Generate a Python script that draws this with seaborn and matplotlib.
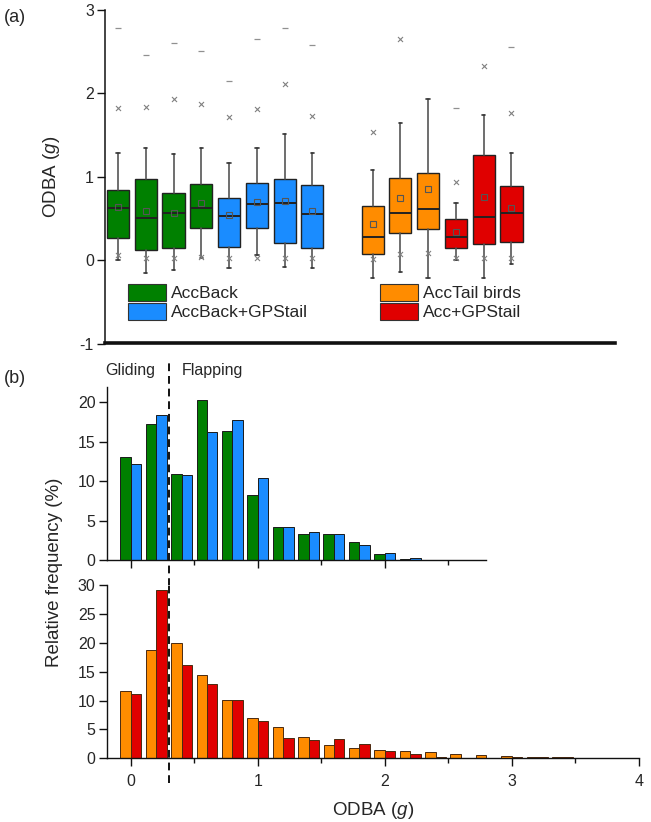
import numpy as np
import pandas as pd
import matplotlib
matplotlib.use("Agg")
import matplotlib.pyplot as plt
from matplotlib.patches import Patch
import seaborn as sns

sns.set_style("ticks")
plt.rcParams['font.family'] = ['Liberation Sans', 'DejaVu Sans']
plt.rcParams['mathtext.fontset'] = 'custom'
plt.rcParams['mathtext.rm'] = 'Liberation Sans'
plt.rcParams['mathtext.it'] = 'Liberation Sans:italic'

# ---------------- Panel (a) data: box statistics per bird ----------------
box_groups = ["AccBack"] * 4 + ["AccBack+GPStail"] * 4 + ["AccTail birds"] * 3 + ["Acc+GPStail"] * 3
whisker_hi = [1.28, 1.35, 1.27, 1.34, 1.16, 1.34, 1.51, 1.28, 1.08, 1.65, 1.93, 0.68, 1.74, 1.29]
q3_vals    = [0.84, 0.97, 0.80, 0.91, 0.75, 0.93, 0.97, 0.90, 0.65, 0.98, 1.05, 0.49, 1.26, 0.89]
medians    = [0.62, 0.50, 0.57, 0.62, 0.53, 0.67, 0.69, 0.55, 0.28, 0.57, 0.61, 0.28, 0.52, 0.57]
means      = [0.64, 0.59, 0.57, 0.68, 0.54, 0.70, 0.71, 0.59, 0.43, 0.75, 0.85, 0.34, 0.76, 0.62]
q1_vals    = [0.26, 0.12, 0.14, 0.38, 0.16, 0.38, 0.21, 0.15, 0.07, 0.33, 0.37, 0.14, 0.19, 0.22]
whisker_lo = [0.00, -0.16, -0.12, 0.02, -0.09, 0.06, -0.08, -0.09, -0.22, -0.14, -0.22, 0.00, -0.22, -0.05]
p99_vals   = [1.83, 1.84, 1.93, 1.87, 1.72, 1.81, 2.11, 1.73, 1.54, 2.65, np.nan, 0.94, 2.33, 1.77]
p1_vals    = [0.06, 0.03, 0.03, 0.04, 0.03, 0.03, 0.03, 0.03, 0.01, 0.07, 0.08, 0.03, 0.03, 0.03]
max_vals   = [2.79, 2.46, 2.61, 2.51, 2.15, 2.65, 2.78, 2.58, np.nan, np.nan, np.nan, 1.83, np.nan, 2.56]

# ---------------- Panel (b) data: relative frequency histograms ----------------
bins_top = [0.0, 0.2, 0.4, 0.6, 0.8, 1.0, 1.2, 1.4, 1.6, 1.8, 2.0, 2.2, 2.4, 2.6]
freq_accback = [13.05, 17.3, 10.9, 20.3, 16.4, 8.26, 4.15, 3.26, 3.26, 2.25, 0.72, 0.13, 0.05, 0.02]
freq_accback_gps = [12.2, 18.4, 10.76, 16.3, 17.8, 10.4, 4.2, 3.56, 3.35, 1.86, 0.93, 0.3, 0.05, 0.02]

bins_bot = [0.0, 0.2, 0.4, 0.6, 0.8, 1.0, 1.2, 1.4, 1.6, 1.8, 2.0, 2.2, 2.4, 2.6, 2.8, 3.0, 3.2, 3.4, 3.6]
freq_acctail = [11.65, 18.75, 19.97, 14.37, 10.1, 6.92, 5.37, 3.63, 2.25, 1.85, 1.44, 1.21, 1.04, 0.75, 0.58, 0.4, 0.25, 0.25, 0.05]
freq_acc_gps = [11.1, 29.1, 16.1, 12.87, 10.1, 6.46, 3.46, 3.23, 3.29, 2.42, 1.27, 0.69, 0.23, 0.06, 0.03, 0.3, 0.25, 0.2, 0.03]

threshold = 0.3

palette = {"AccBack": "#008000", "AccBack+GPStail": "#1a8cff",
           "AccTail birds": "#ff8c00", "Acc+GPStail": "#e00000"}

# ---------------- Figure ----------------
fig = plt.figure(figsize=(6.51, 8.22), dpi=100)
W, H = 651, 822

def rect(l, t, r, b):
    return [l / W, 1 - b / H, (r - l) / W, (b - t) / H]

# ---- Panel (a)
axa = fig.add_axes(rect(105, 10, 615, 343.5))
positions = np.r_[np.arange(8), np.arange(6) + 9.17]
stats = []
for i in range(len(medians)):
    stats.append(dict(med=medians[i], q1=q1_vals[i], q3=q3_vals[i],
                      whislo=whisker_lo[i], whishi=whisker_hi[i],
                      mean=means[i], fliers=[]))
bp = axa.bxp(stats, positions=positions, widths=0.8, patch_artist=True,
             showmeans=True, showfliers=False, capwidths=0.12,
             boxprops=dict(edgecolor="#222222", linewidth=1.0),
             medianprops=dict(color="#222222", linewidth=1.4),
             whiskerprops=dict(color="#555555", linewidth=1.2),
             capprops=dict(color="#333333", linewidth=1.2),
             meanprops=dict(marker="s", markerfacecolor="none",
                            markeredgecolor="#555555", markersize=4, markeredgewidth=0.8))
for patch, g in zip(bp["boxes"], box_groups):
    patch.set_facecolor(palette[g])
    patch.set_zorder(2)

mk = pd.DataFrame({"pos": np.r_[positions, positions],
                   "val": np.r_[p99_vals, p1_vals]})
sns.scatterplot(data=mk, x="pos", y="val", marker="x", color="#808080",
                s=13, linewidth=0.8, ax=axa, zorder=4)
mx = pd.DataFrame({"pos": positions, "val": max_vals})
sns.scatterplot(data=mx, x="pos", y="val", marker="_", color="#909090",
                s=16, linewidth=0.9, ax=axa, zorder=4)

axa.set_yticks([-1, 0, 1, 2, 3])
axa.set_yticklabels(["-1", "0", "1", "2", "3"])
axa.set_xticks([])
axa.set_xlim(-0.47, 17.9)
axa.set_ylim(-1, 3)
axa.set_xlabel("")
axa.set_ylabel(r"ODBA ($\mathit{g}$)", fontsize=13.5, labelpad=13)
for s in ["top", "right"]:
    axa.spines[s].set_visible(False)
axa.spines["bottom"].set_linewidth(2.6)
axa.spines["bottom"].set_color("#111111")
axa.spines["left"].set_linewidth(1.1)
axa.spines["left"].set_color("#111111")
axa.tick_params(axis="y", labelsize=11.5, length=6, width=1, pad=2, color="#111111")

def add_leg(ax, names, anchor):
    handles = [Patch(facecolor=palette[n], edgecolor="#333333", linewidth=0.8) for n in names]
    return ax.legend(handles, names, loc="upper left", bbox_to_anchor=anchor,
                     frameon=False, fontsize=12.5, handlelength=2.2, handleheight=1.15,
                     handletextpad=0.3, labelspacing=0.08, borderpad=0, borderaxespad=0)

leg1 = add_leg(axa, ["AccBack", "AccBack+GPStail"], (0.045, 0.179))
axa.add_artist(leg1)
add_leg(axa, ["AccTail birds", "Acc+GPStail"], (0.539, 0.179))

fig.text(4 / W, 1 - 18 / H, "(a)", fontsize=13, ha="left", va="center")
fig.text(4 / W, 1 - 378 / H, "(b)", fontsize=13, ha="left", va="center")

# ---- Panel (b) top histogram
axt = fig.add_axes(rect(106.6, 386.7, 486.3, 560))
dft = pd.DataFrame({"bin": bins_top * 2,
                    "freq": freq_accback + freq_accback_gps,
                    "group": ["AccBack"] * len(bins_top) + ["AccBack+GPStail"] * len(bins_top)})
sns.barplot(data=dft, x="bin", y="freq", hue="group", native_scale=True,
            palette=palette, saturation=1, width=0.82, edgecolor="#1a1a1a",
            linewidth=0.7, legend=False, ax=axt)

# ---- Panel (b) bottom histogram
axb = fig.add_axes(rect(106.6, 585, 638.7, 758.3))
dfb = pd.DataFrame({"bin": bins_bot * 2,
                    "freq": freq_acctail + freq_acc_gps,
                    "group": ["AccTail birds"] * len(bins_bot) + ["Acc+GPStail"] * len(bins_bot)})
sns.barplot(data=dfb, x="bin", y="freq", hue="group", native_scale=True,
            palette=palette, saturation=1, width=0.82, edgecolor="#4a2a10",
            linewidth=0.7, legend=False, ax=axb)

for ax, xmax, ymax, yt in [(axt, 2.8, 22, [0, 5, 10, 15, 20]),
                           (axb, 4.0, 30, [0, 5, 10, 15, 20, 25, 30])]:
    maj = [v for v in [0, 1, 2, 3, 4] if v <= xmax]
    mnr = [v for v in [0.5, 1.5, 2.5, 3.5] if v <= xmax]
    ax.set_yticks(yt)
    ax.set_yticklabels([str(v) for v in yt])
    ax.set_xticks(maj)
    ax.set_xticks(mnr, minor=True)
    ax.set_xlim(-0.19, xmax)
    ax.set_ylim(0, ymax)
    ax.set_xlabel("")
    ax.set_ylabel("")
    for s in ["top", "right"]:
        ax.spines[s].set_visible(False)
    for s in ["left", "bottom"]:
        ax.spines[s].set_linewidth(1.0)
        ax.spines[s].set_color("#111111")
    ax.tick_params(axis="y", labelsize=11.5, length=6, width=1, pad=2, color="#111111")
    ax.tick_params(axis="x", which="major", labelsize=11.5, length=6, width=1, pad=5, color="#111111")
    ax.tick_params(axis="x", which="minor", length=3.5, width=1, color="#111111")

axt.set_xticklabels([])
axb.set_xticklabels(["0", "1", "2", "3", "4"])
axb.set_xlabel(r"ODBA ($\mathit{g}$)", fontsize=13.5, labelpad=8)

axt.axvline(threshold, ymin=-0.15, ymax=1.143, clip_on=False, color="#111111",
            linewidth=1.4, dashes=(4, 2.5))
axb.axvline(threshold, ymin=-0.143, ymax=1.0, clip_on=False, color="#111111",
            linewidth=1.4, dashes=(4, 2.5))

axt.text(0.0, 24.1, "Gliding", fontsize=11.5, ha="center", va="center", clip_on=False)
axt.text(0.64, 24.1, "Flapping", fontsize=11.5, ha="center", va="center", clip_on=False)

fig.text(55 / W, 1 - 572 / H, "Relative frequency (%)", fontsize=13.5,
         rotation=90, ha="center", va="center")

fig.savefig("out.png", dpi=100)
